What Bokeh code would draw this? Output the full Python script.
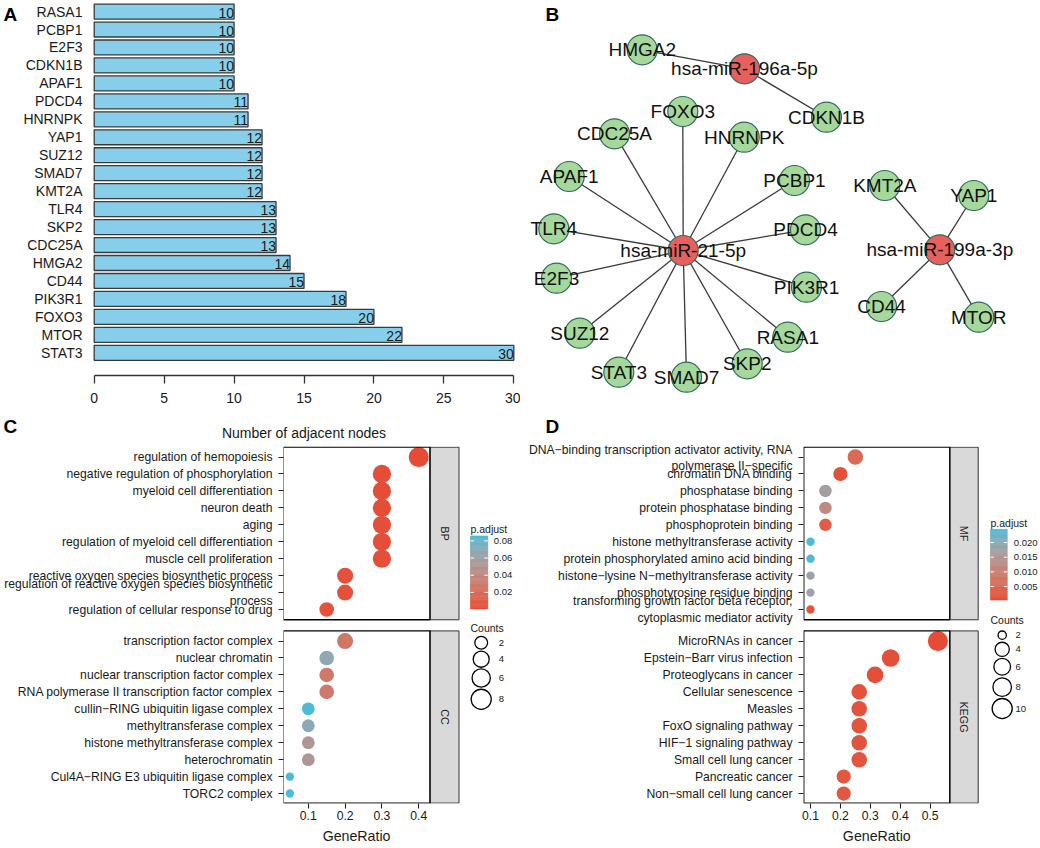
import numpy as np
from bokeh.plotting import figure
from bokeh.layouts import column, row
from bokeh.models import Range1d, FixedTicker, ColumnDataSource, Title
from bokeh.transform import linear_cmap, factor_cmap
from bokeh.core.properties import value
from bokeh.embed import file_html
from bokeh.resources import INLINE

# ======================= DATA =======================
# --- Panel A: number of adjacent nodes (bottom -> top) ---
genes = ["STAT3", "MTOR", "FOXO3", "PIK3R1", "CD44", "HMGA2", "CDC25A", "SKP2",
         "TLR4", "KMT2A", "SMAD7", "SUZ12", "YAP1", "HNRNPK", "PDCD4", "APAF1",
         "CDKN1B", "E2F3", "PCBP1", "RASA1"]
adjacent_nodes = [30, 22, 20, 18, 15, 14, 13, 13, 13, 12, 12, 12, 12, 11, 11,
                  10, 10, 10, 10, 10]
a_ticks = [0, 5, 10, 15, 20, 25, 30]

# --- Panel B: miRNA-mRNA network (layout positions in panel units) ---
node_names = ["hsa-miR-21-5p", "hsa-miR-196a-5p", "hsa-miR-199a-3p",
              "HMGA2", "CDKN1B", "FOXO3", "CDC25A", "HNRNPK", "APAF1", "PCBP1",
              "TLR4", "PDCD4", "E2F3", "PIK3R1", "SUZ12", "RASA1", "STAT3",
              "SMAD7", "SKP2", "KMT2A", "YAP1", "CD44", "MTOR"]
node_kind = ["miRNA"] * 3 + ["mRNA"] * 20
node_x = [162.7, 224.0, 419.3, 121.7, 306.0, 162.3, 94.0, 223.7, 48.7, 274.0,
          33.3, 285.0, 36.0, 286.0, 59.3, 267.3, 98.3, 166.0, 226.7, 364.3,
          453.3, 361.0, 458.3]
node_y = [250.0, 68.3, 249.3, 49.3, 116.7, 111.0, 133.3, 136.7, 176.0, 180.0,
          228.3, 229.3, 277.7, 286.7, 332.7, 336.7, 371.7, 376.7, 363.3, 185.0,
          195.0, 306.0, 316.7]
edge_source = ["hsa-miR-21-5p"] * 14 + ["hsa-miR-196a-5p"] * 2 + ["hsa-miR-199a-3p"] * 4
edge_target = ["FOXO3", "CDC25A", "HNRNPK", "APAF1", "PCBP1", "TLR4", "PDCD4",
               "E2F3", "PIK3R1", "SUZ12", "RASA1", "STAT3", "SMAD7", "SKP2",
               "HMGA2", "CDKN1B", "KMT2A", "YAP1", "CD44", "MTOR"]

# --- Panel C: GO BP / CC ---
bp_terms = ["regulation of hemopoiesis",
            "negative regulation of phosphorylation",
            "myeloid cell differentiation",
            "neuron death",
            "aging",
            "regulation of myeloid cell differentiation",
            "muscle cell proliferation",
            "reactive oxygen species biosynthetic process",
            "regulation of reactive oxygen species biosynthetic\nprocess",
            "regulation of cellular response to drug"]
bp_ratio = [0.40, 0.30, 0.30, 0.30, 0.30, 0.30, 0.30, 0.20, 0.20, 0.15]
bp_count = [8, 6, 6, 6, 6, 6, 6, 4, 4, 3]
bp_padj = [0.0008, 0.0015, 0.002, 0.002, 0.0025, 0.003, 0.003, 0.004, 0.004, 0.005]
cc_terms = ["transcription factor complex",
            "nuclear chromatin",
            "nuclear transcription factor complex",
            "RNA polymerase II transcription factor complex",
            "cullin\u2212RING ubiquitin ligase complex",
            "methyltransferase complex",
            "histone methyltransferase complex",
            "heterochromatin",
            "Cul4A\u2212RING E3 ubiquitin ligase complex",
            "TORC2 complex"]
cc_ratio = [0.20, 0.15, 0.15, 0.15, 0.10, 0.10, 0.10, 0.10, 0.05, 0.05]
cc_count = [4, 3, 3, 3, 2, 2, 2, 2, 1, 1]
cc_padj = [0.027, 0.068, 0.029, 0.029, 0.0857, 0.070, 0.052, 0.052, 0.0857, 0.0857]
c_padj_breaks = [0.02, 0.04, 0.06, 0.08]
c_padj_labels = ["0.02", "0.04", "0.06", "0.08"]
c_count_breaks = [2, 4, 6, 8]
c_x_ticks = [0.1, 0.2, 0.3, 0.4]

# --- Panel D: GO MF / KEGG ---
mf_terms = ["DNA\u2212binding transcription activator activity, RNA\npolymerase II\u2212specific",
            "chromatin DNA binding",
            "phosphatase binding",
            "protein phosphatase binding",
            "phosphoprotein binding",
            "histone methyltransferase activity",
            "protein phosphorylated amino acid binding",
            "histone\u2212lysine N\u2212methyltransferase activity",
            "phosphotyrosine residue binding",
            "transforming growth factor beta receptor,\ncytoplasmic mediator activity"]
mf_ratio = [0.25, 0.20, 0.15, 0.15, 0.15, 0.10, 0.10, 0.10, 0.10, 0.10]
mf_count = [5, 4, 3, 3, 3, 2, 2, 2, 2, 2]
mf_padj = [0.0055, 0.0012, 0.0170, 0.0120, 0.0030, 0.0245, 0.0245, 0.0180, 0.0180, 0.0020]
kegg_terms = ["MicroRNAs in cancer",
              "Epstein\u2212Barr virus infection",
              "Proteoglycans in cancer",
              "Cellular senescence",
              "Measles",
              "FoxO signaling pathway",
              "HIF\u22121 signaling pathway",
              "Small cell lung cancer",
              "Pancreatic cancer",
              "Non\u2212small cell lung cancer"]
kegg_ratio = [0.526, 0.368, 0.316, 0.263, 0.263, 0.263, 0.263, 0.263, 0.211, 0.211]
kegg_count = [10, 7, 6, 5, 5, 5, 5, 5, 4, 4]
kegg_padj = [0.0004, 0.0008, 0.0010, 0.0014, 0.0015, 0.0017, 0.0018, 0.0019, 0.0021, 0.0024]
d_padj_breaks = [0.005, 0.010, 0.015, 0.020]
d_padj_labels = ["0.005", "0.010", "0.015", "0.020"]
d_count_breaks = [2, 4, 6, 8, 10]
d_x_ticks = [0.1, 0.2, 0.3, 0.4, 0.5]

# ======================= STYLE / LAYOUT =======================
FONTNAME = "Liberation Sans"
FONT = value(FONTNAME)
TXT = "#1a1a1a"


def fpx(v):
    return f"{v:.1f}px"


# ggplot-like Lab gradient (low = red, high = blue)
_M = np.array([[0.4124564, 0.3575761, 0.1804375],
               [0.2126729, 0.7151522, 0.0721750],
               [0.0193339, 0.1191920, 0.9503041]])
_WP = np.array([0.95047, 1.0, 1.08883])


def _lin(c):
    return c / 12.92 if c <= 0.04045 else ((c + 0.055) / 1.055) ** 2.4


def _delin(c):
    return 12.92 * c if c <= 0.0031308 else 1.055 * c ** (1 / 2.4) - 0.055


def _f(t):
    d = 6 / 29
    return t ** (1 / 3) if t > d ** 3 else t / (3 * d * d) + 4 / 29


def _finv(t):
    d = 6 / 29
    return t ** 3 if t > d else 3 * d * d * (t - 4 / 29)


def to_lab(h):
    rgb = np.array([_lin(int(h[i:i + 2], 16) / 255) for i in (1, 3, 5)])
    x, y, z = (_M @ rgb) / _WP
    return np.array([116 * _f(y) - 16, 500 * (_f(x) - _f(y)), 200 * (_f(y) - _f(z))])


def from_lab(lab):
    L, a, b = lab
    fy = (L + 16) / 116
    xyz = np.array([_finv(fy + a / 500), _finv(fy), _finv(fy - b / 200)]) * _WP
    rgb = np.linalg.solve(_M, xyz)
    rgb = [min(1.0, max(0.0, _delin(max(0.0, c)))) for c in rgb]
    return "#%02x%02x%02x" % tuple(int(round(c * 255)) for c in rgb)


LAB_LO, LAB_HI = to_lab("#E64B35"), to_lab("#4DBBD5")
PALETTE = [from_lab(LAB_LO + (LAB_HI - LAB_LO) * t) for t in np.linspace(0, 1, 256)]


def style_common(p):
    p.xgrid.visible = False
    p.ygrid.visible = False
    p.outline_line_color = None
    p.background_fill_color = "white"
    p.border_fill_color = "white"


TOP_H = 442
BOT_H = 848 - TOP_H

# ======================= panel letters A / C (left strip) =======================
LET_W = 20
pL = figure(width=LET_W, height=TOP_H, output_backend="svg", toolbar_location=None,
            x_range=Range1d(0, LET_W), y_range=Range1d(TOP_H, 0),
            x_axis_type=None, y_axis_type=None,
            min_border_left=0, min_border_right=0, min_border_top=0, min_border_bottom=0)
style_common(pL)
pL.text(x=[3, 3], y=[14, 426], text=["A", "C"], text_align="left", text_baseline="middle",
        text_font=FONT, text_font_style="bold", text_font_size=fpx(19), text_color="black")

# ======================= PANEL A =======================
WA = 520 - LET_W
A_X0 = 93.7      # px of value 0 (page coords)
A_PPU = 13.987   # px per unit
A_ROW0 = 352.3   # px of bottom bar centre
A_ROWH = 17.96
A_AXIS_Y = 375.0
A_FRAME_L = 85


def ax_(xr):
    return (xr - A_X0) / A_PPU


def ay_(yr):
    return (A_ROW0 - yr) / A_ROWH


a_mbl, a_mbr = A_FRAME_L - LET_W, 0
pA = figure(width=WA, height=TOP_H, output_backend="svg", toolbar_location=None,
            x_range=Range1d(ax_(A_FRAME_L), ax_(520 - a_mbr)),
            y_range=Range1d(ay_(TOP_H), ay_(0)),
            min_border_left=a_mbl, min_border_right=a_mbr,
            min_border_top=0, min_border_bottom=0)
style_common(pA)
srcA = ColumnDataSource(dict(pos=list(range(len(genes))), n=adjacent_nodes,
                             lab=[str(v) for v in adjacent_nodes]))
pA.hbar(y="pos", left=0, right="n", height=0.833, source=srcA,
        fill_color="#87CEEB", line_color="#3a3a3a", line_width=1.3)
pA.text(x="n", y="pos", text="lab", source=srcA, text_align="right",
        text_baseline="middle", text_font=FONT, text_font_size=fpx(14),
        text_color=TXT, x_offset=0, y_offset=1)

pA.xaxis.fixed_location = ay_(A_AXIS_Y)
pA.xaxis.ticker = FixedTicker(ticks=a_ticks)
pA.xaxis.bounds = (0, 30)
pA.xaxis.axis_line_color = "#333333"
pA.xaxis.axis_line_width = 1.3
pA.xaxis.major_tick_line_color = "#333333"
pA.xaxis.major_tick_line_width = 1.3
pA.xaxis.major_tick_out = 8
pA.xaxis.major_tick_in = 0
pA.xaxis.major_label_standoff = 9
pA.xaxis.major_label_text_font = FONTNAME
pA.xaxis.major_label_text_font_size = fpx(14)
pA.xaxis.major_label_text_color = TXT
pA.xaxis.axis_label = "Number of adjacent nodes"
pA.xaxis.axis_label_standoff = 19
pA.xaxis.axis_label_text_font = FONTNAME
pA.xaxis.axis_label_text_font_style = "normal"
pA.xaxis.axis_label_text_font_size = fpx(14)
pA.xaxis.axis_label_text_color = TXT

pA.yaxis.ticker = FixedTicker(ticks=list(range(len(genes))))
pA.yaxis.major_label_overrides = {i: g for i, g in enumerate(genes)}
pA.yaxis.axis_line_color = None
pA.yaxis.major_tick_line_color = None
pA.yaxis.major_tick_out = 0
pA.yaxis.major_tick_in = 0
pA.yaxis.major_label_standoff = 3
pA.yaxis.major_label_text_font = FONTNAME
pA.yaxis.major_label_text_font_size = fpx(14)
pA.yaxis.major_label_text_color = TXT

# ======================= PANEL B =======================
pB = figure(width=520, height=TOP_H, output_backend="svg", toolbar_location=None,
            x_range=Range1d(0, 520), y_range=Range1d(TOP_H, 0),
            x_axis_type=None, y_axis_type=None,
            min_border_left=0, min_border_right=0, min_border_top=0, min_border_bottom=0)
style_common(pB)
pos = {n: (x, y) for n, x, y in zip(node_names, node_x, node_y)}
pB.segment(x0=[pos[s][0] for s in edge_source], y0=[pos[s][1] for s in edge_source],
           x1=[pos[t][0] for t in edge_target], y1=[pos[t][1] for t in edge_target],
           line_color="#3a3a3a", line_width=1.3)
srcB = ColumnDataSource(dict(x=node_x, y=node_y, name=node_names, kind=node_kind))
pB.scatter(x="x", y="y", source=srcB, size=30,
           fill_color=factor_cmap("kind", ["#E8605E", "#A6D89B"], ["miRNA", "mRNA"]),
           line_color="#2f6b5b", line_width=1.2)
pB.text(x="x", y="y", text="name", source=srcB, text_align="center",
        text_baseline="middle", text_font=FONT, text_font_size=fpx(19),
        text_color="#111111")
pB.text(x=[25, 25], y=[14, 426], text=["B", "D"], text_align="left", text_baseline="middle",
        text_font=FONT, text_font_style="bold", text_font_size=fpx(19), text_color="black")

# ======================= PANELS C / D =======================
ROW0 = 456.7 - TOP_H      # first row centre, local y
ROW_H = 17.18
FACET2 = 1086             # offset of second facet, in 1/100 rows
PANEL_Y = [(446.7 - TOP_H, 621.7 - TOP_H), (633.0 - TOP_H, 807.6 - TOP_H)]


def dot_size(c, lo, hi):
    s = 3 + 5 * np.sqrt((np.asarray(c, dtype=float) - lo) / (hi - lo))
    return 2.35 * s + 1.3


def dot_panel(facets, x_ticks, padj_breaks, padj_labels, count_breaks, g):
    W, H = 520, BOT_H
    mbl = int(round(g["panel_l"]))
    mbt, mbb, mbr = 4, 40, 0
    fl, fr = float(mbl), float(W)
    ft, fb = float(mbt), float(H - mbb)

    def gx(xr):
        return g["tick0"] + (xr - g["tick0_px"]) / g["ppu"]

    def yv(yr):
        return (yr - ROW0) / ROW_H * 100

    p = figure(width=W, height=H, output_backend="svg", toolbar_location=None,
               x_range=Range1d(gx(fl), gx(fr)), y_range=Range1d(yv(fb), yv(ft)),
               min_border_left=mbl, min_border_right=mbr,
               min_border_top=mbt, min_border_bottom=mbb)
    style_common(p)
    p.extra_x_ranges = {"px": Range1d(fl, fr)}
    p.extra_y_ranges = {"py": Range1d(fb, ft)}
    kw = dict(x_range_name="px", y_range_name="py")

    all_padj = sum([list(f[4]) for f in facets], [])
    all_cnt = sum([list(f[3]) for f in facets], [])
    lo_p, hi_p = min(all_padj), max(all_padj)
    lo_c, hi_c = min(all_cnt), max(all_cnt)
    cmap = linear_cmap("padj", PALETTE, low=lo_p, high=hi_p)

    # strips
    pl, pr, sr = g["panel_l"], g["panel_r"], g["strip_r"]
    p.quad(left=[pr, pr], right=[sr, sr], top=[PANEL_Y[0][0], PANEL_Y[1][0]],
           bottom=[PANEL_Y[0][1], PANEL_Y[1][1]], fill_color="#D9D9D9",
           line_color="#333333", line_width=1.0, **kw)

    ticks, labels = [], []
    for k, (name, terms, ratio, cnt, padj) in enumerate(facets):
        ys = [k * FACET2 + 100 * i for i in range(len(terms))]
        ticks += ys
        labels += terms
        src = ColumnDataSource(dict(x=ratio, y=ys, size=dot_size(cnt, lo_c, hi_c), padj=padj))
        p.scatter(x="x", y="y", size="size", source=src, fill_color=cmap,
                  line_color=None)
        p.text(x=[(pr + sr) / 2], y=[(PANEL_Y[k][0] + PANEL_Y[k][1]) / 2], text=[name],
               angle=-np.pi / 2, text_align="center", text_baseline="middle",
               text_font=FONT, text_font_size=fpx(10.8), text_color=TXT, **kw)

    # panel borders
    p.quad(left=[pl, pl], right=[pr, pr], top=[PANEL_Y[0][0], PANEL_Y[1][0]],
           bottom=[PANEL_Y[0][1], PANEL_Y[1][1]], fill_color=None,
           line_color="black", line_width=1.3, **kw)

    # axes
    p.yaxis.ticker = FixedTicker(ticks=ticks)
    p.yaxis.major_label_overrides = {t: l for t, l in zip(ticks, labels)}
    p.xaxis.ticker = FixedTicker(ticks=x_ticks)
    for ax in (p.xaxis, p.yaxis):
        ax.axis_line_color = None
        ax.major_tick_line_color = "#222222"
        ax.major_tick_line_width = 1.1
        ax.major_tick_out = 5
        ax.major_tick_in = 0
        ax.major_label_text_font = FONTNAME
        ax.major_label_text_color = TXT
    p.yaxis.major_label_standoff = 6
    p.yaxis.major_label_text_font_size = fpx(12.2)
    p.xaxis.major_label_standoff = 2
    p.xaxis.major_label_text_font_size = fpx(12.2)

    # x title centred under the panel (frame also holds strip + legend)
    title_w = 67.9
    p.add_layout(Title(text="GeneRatio", align="left",
                       offset=(pl + pr) / 2 - title_w / 2 - fl,
                       text_font=FONTNAME, text_font_size=fpx(14.2),
                       text_font_style="normal", text_color=TXT,
                       standoff=8, vertical_align="middle"), "below")

    # colour legend
    tx = g["title_x"]
    p.text(x=[tx], y=[g["padj_title_y"]], text=["p.adjust"], text_align="left",
           text_baseline="middle", text_font=FONT, text_font_size=fpx(10.5),
           text_color=TXT, **kw)
    cb_l, cb_r, cb_t, cb_b = g["cb"]
    n = 64
    vals = [lo_p + (j + 0.5) / n * (hi_p - lo_p) for j in range(n)]
    cb_src = ColumnDataSource(dict(
        padj=vals,
        bottom=[cb_b - j / n * (cb_b - cb_t) for j in range(n)],
        top=[cb_b - (j + 1) / n * (cb_b - cb_t) for j in range(n)]))
    p.quad(left=cb_l, right=cb_r, top="top", bottom="bottom", source=cb_src,
           fill_color=cmap, line_color=cmap, line_width=0.6, **kw)
    by = [cb_b - (b - lo_p) / (hi_p - lo_p) * (cb_b - cb_t) for b in padj_breaks]
    tw = (cb_r - cb_l) * 0.2
    p.segment(x0=[cb_l] * len(by), x1=[cb_l + tw] * len(by), y0=by, y1=by,
              line_color="white", line_width=1.0, **kw)
    p.segment(x0=[cb_r - tw] * len(by), x1=[cb_r] * len(by), y0=by, y1=by,
              line_color="white", line_width=1.0, **kw)
    p.text(x=[g["cb_label_x"]] * len(by), y=by, text=padj_labels, text_align="left",
           text_baseline="middle", text_font=FONT, text_font_size=fpx(9.5),
           text_color=TXT, **kw)

    # size legend
    p.text(x=[tx], y=[g["count_title_y"]], text=["Counts"], text_align="left",
           text_baseline="middle", text_font=FONT, text_font_size=fpx(10.5),
           text_color=TXT, **kw)
    cys = g["count_ys"]
    p.scatter(x=[g["count_cx"]] * len(cys), y=cys,
              size=dot_size(count_breaks, lo_c, hi_c), fill_color="white",
              line_color="black", line_width=1.3, **kw)
    p.text(x=[g["count_label_x"]] * len(cys), y=cys, text=[str(c) for c in count_breaks],
           text_align="left", text_baseline="middle", text_font=FONT,
           text_font_size=fpx(9.5), text_color=TXT, **kw)
    return p


def ly(vals):
    return [v - TOP_H for v in vals]


pC = dot_panel(
    [("BP", bp_terms, bp_ratio, bp_count, bp_padj),
     ("CC", cc_terms, cc_ratio, cc_count, cc_padj)],
    c_x_ticks, c_padj_breaks, c_padj_labels, c_count_breaks,
    dict(panel_l=282.7, panel_r=429.5, strip_r=458.5, tick0=0.1, tick0_px=307.8,
         ppu=368.0, title_x=470, padj_title_y=530 - TOP_H,
         cb=(470, 487.3, 536.7 - TOP_H, 610.7 - TOP_H),
         cb_label_x=493.3, count_title_y=630 - TOP_H, count_cx=480.7,
         count_ys=ly([645, 661.7, 680.7, 702.3]), count_label_x=498.3))

pD = dot_panel(
    [("MF", mf_terms, mf_ratio, mf_count, mf_padj),
     ("KEGG", kegg_terms, kegg_ratio, kegg_count, kegg_padj)],
    d_x_ticks, d_padj_breaks, d_padj_labels, d_count_breaks,
    dict(panel_l=283.3, panel_r=429.3, strip_r=457.7, tick0=0.1, tick0_px=290.0,
         ppu=299.0, title_x=470, padj_title_y=524 - TOP_H,
         cb=(470, 486.7, 530 - TOP_H, 601.7 - TOP_H),
         cb_label_x=493.3, count_title_y=621.7 - TOP_H, count_cx=481.7,
         count_ys=ly([637.3, 651.7, 669.3, 690, 711.7]), count_label_x=495))

layout = column(row(pL, pA, pB), row(pC, pD))
open("out.html", "w").write(file_html(layout, INLINE))
